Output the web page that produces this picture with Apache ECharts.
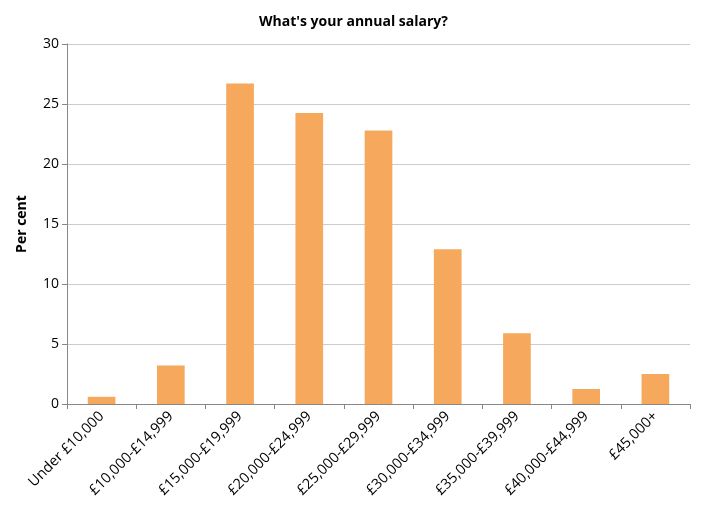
<!DOCTYPE html>
<html><head><meta charset="utf-8">
<script src="https://cdn.jsdelivr.net/npm/echarts@6/dist/echarts.min.js"></script>
<style>html,body{margin:0;padding:0;background:#fff}#c{width:707px;height:524px}</style>
</head><body><div id="c"></div>
<script>
const categories = ["Under £10,000","£10,000-£14,999","£15,000-£19,999","£20,000-£24,999","£25,000-£29,999","£30,000-£34,999","£35,000-£39,999","£40,000-£44,999","£45,000+"];
const values = [0.6, 3.2, 26.7, 24.25, 22.8, 12.9, 5.9, 1.25, 2.5];
const chart = echarts.init(document.getElementById('c'));
chart.setOption({
  animation:false,
  title:{text:"What's your annual salary?",left:'center',top:10,textStyle:{fontFamily:'Open Sans',fontSize:14,fontWeight:'bold',color:'#000'}},
  grid:{left:67,right:17,top:44,bottom:120},
  xAxis:{type:'category',data:categories,
    axisLine:{lineStyle:{color:'#888'}},axisTick:{show:true,lineStyle:{color:'#888'}},
    axisLabel:{rotate:45,interval:0,fontFamily:'Open Sans',fontSize:14.5,color:'#000',margin:10}},
  yAxis:{type:'value',min:0,max:30,interval:5,name:'Per cent',nameLocation:'middle',nameGap:38,
    nameTextStyle:{fontFamily:'Open Sans',fontSize:14,fontWeight:'bold',color:'#000'},
    axisLine:{show:true,lineStyle:{color:'#888'}},axisTick:{show:true,lineStyle:{color:'#888'}},
    splitLine:{lineStyle:{color:'#ccc'}},
    axisLabel:{fontFamily:'Open Sans',fontSize:14,color:'#000'}},
  series:[{type:'bar',data:values,barWidth:'40%',itemStyle:{color:'#F6A95D'}}]
});
</script></body></html>
